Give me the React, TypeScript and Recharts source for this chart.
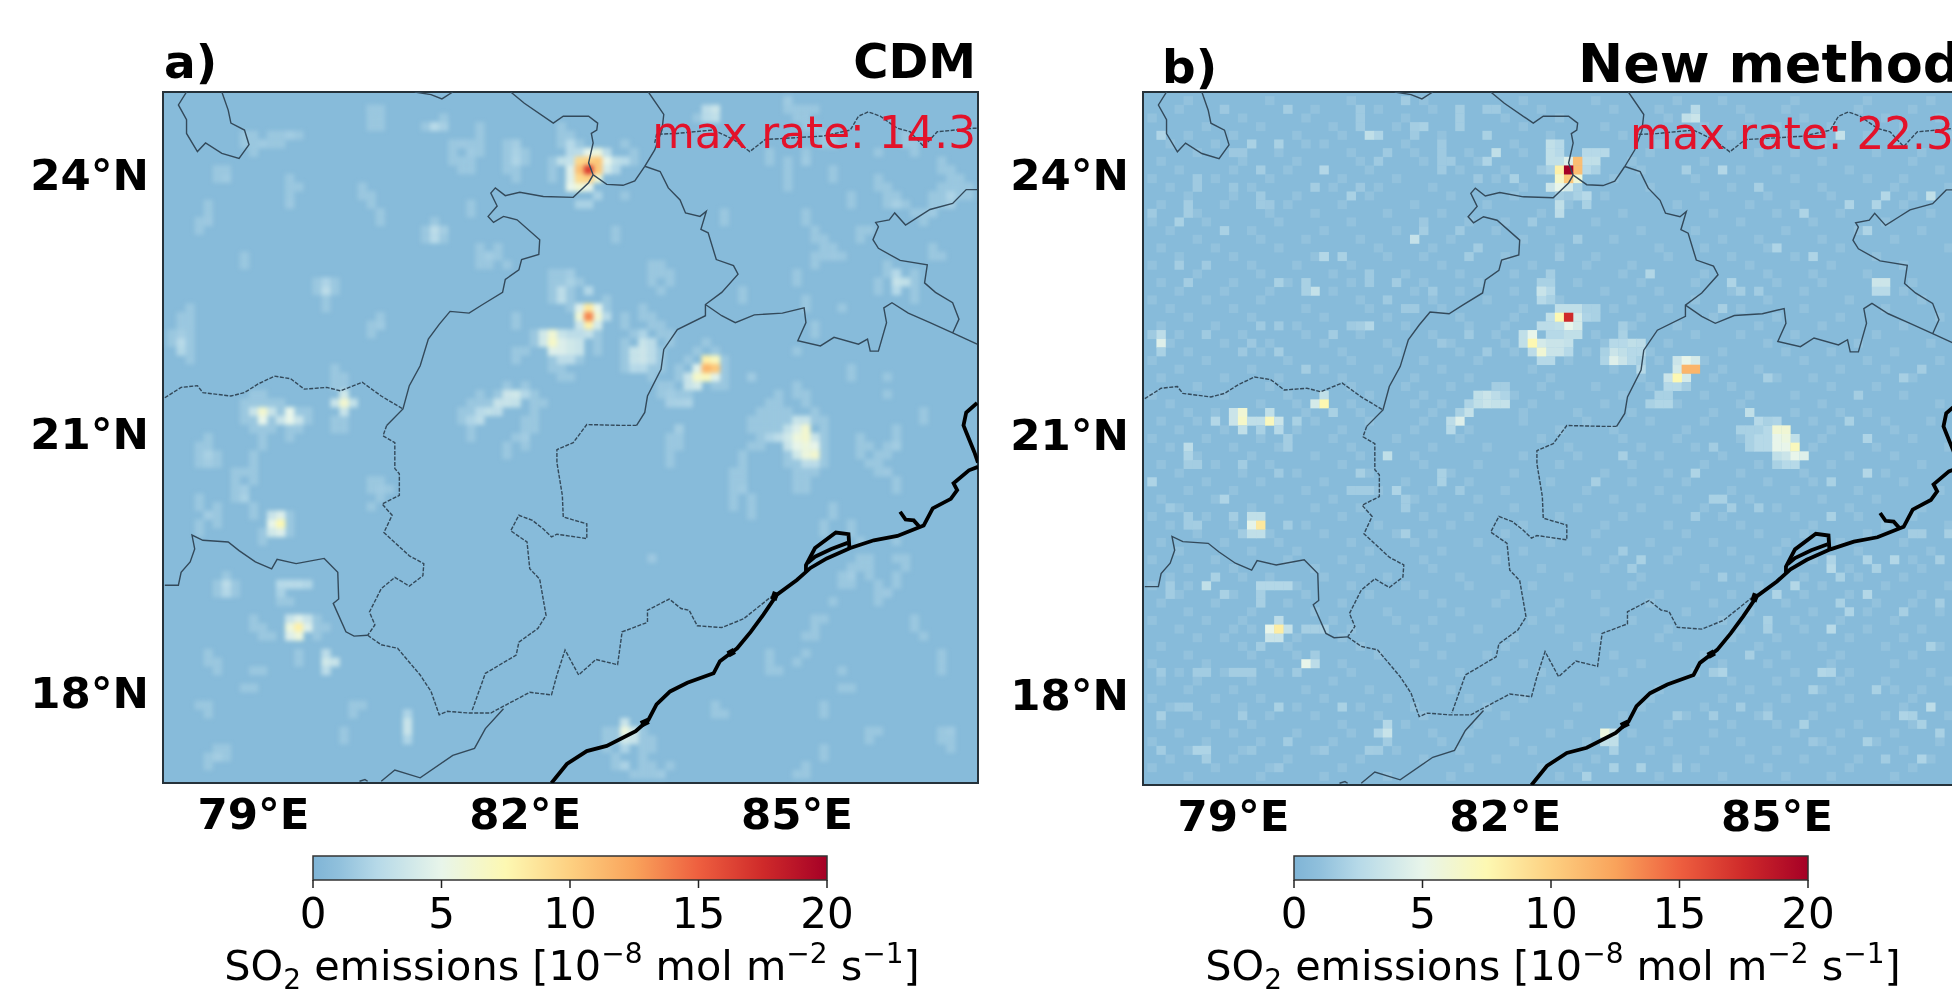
import React from 'react';
import { ScatterChart, Scatter, XAxis, YAxis, CartesianGrid, ReferenceArea, BarChart, Bar } from 'recharts';

type Cell = [number, number, number];
type Pt = [number, number];
type Row = [number, number[]];

const lonTicks = [79, 82, 85];
const latTicks = [18, 21, 24];
const barTicks = [0, 5, 10, 15, 20];

// emission cells: lon, lat, rate (0.1 deg grid, only what stands out of the background)
const cdmHaze: Row[] = [
  [24.8, [80.3, 80.4, 85.0, 85.1, 85.2, 84.9]],
  [24.7, [80.3, 80.4, 85.0, 85.1, 81.1, 83.9]],
  [24.6, [80.3, 80.4, 85.1, 85.2, 81.5, 82.4, 80.9]],
  [24.5, [78.9, 79.0, 79.2, 79.3, 79.5, 81.5, 82.4, 82.5, 84.0, 85.3, 85.4, 86.2]],
  [24.4, [78.9, 79.0, 79.2, 79.3, 81.2, 81.4, 81.5, 81.8, 82.4, 82.6, 83.1, 85.3, 85.4, 86.2, 86.3]],
  [24.3, [79.0, 81.2, 81.5, 81.8, 82.0, 83.2, 84.7, 85.1, 85.9, 86.3]],
  [24.2, [81.2, 81.3, 81.4, 81.8, 82.0, 82.3, 83.2, 84.7, 84.9, 85.1, 86.6]],
  [24.1, [78.6, 78.7, 81.3, 81.4, 81.8, 81.9, 82.3, 84.9, 85.4, 86.6, 86.7]],
  [24.0, [78.6, 79.4, 81.9, 82.3, 84.9, 85.4, 85.9, 86.7, 86.8]],
  [23.9, [79.4, 79.5, 80.2, 84.9, 85.9, 86.0, 86.6, 86.7, 86.8, 86.9]],
  [23.8, [79.4, 80.2, 80.3, 83.1, 85.6, 86.0, 86.1, 86.5, 86.6, 86.8, 86.9]],
  [23.7, [78.5, 80.3, 81.4, 85.6, 86.0, 86.2, 86.5, 86.6]],
  [23.6, [78.5, 80.4, 81.4, 84.2, 85.1, 86.3, 86.4]],
  [23.5, [78.4, 78.5, 80.4, 81.0, 84.2, 85.1, 86.4]],
  [23.4, [78.4, 80.9, 83.0, 85.2, 85.7, 85.8]],
  [23.3, [80.9, 81.1, 83.0, 85.2, 85.3, 85.7]],
  [23.2, [81.5, 81.7, 85.3, 85.4, 86.5]],
  [23.1, [78.9, 81.5, 81.6, 81.7, 85.2, 85.3, 85.5, 86.5, 86.6]],
  [23.0, [78.9, 81.5, 81.6, 81.8, 83.4, 83.5, 85.2, 86.0]],
  [22.9, [82.3, 82.4, 83.4, 83.5, 83.6, 85.0, 86.0, 86.3]],
  [22.8, [79.7, 79.9, 82.3, 82.4, 82.6, 83.4, 83.6, 85.0, 85.9, 86.3]],
  [22.7, [79.7, 79.9, 82.3, 82.5, 83.5, 84.4, 85.9, 86.3]],
  [22.6, [79.8, 82.3, 82.5, 82.9, 84.4, 85.1, 86.3]],
  [22.5, [78.3, 79.8, 82.5, 82.9, 85.1, 85.5, 83.3]],
  [22.4, [78.2, 78.3, 80.4, 81.9, 83.1, 83.3, 83.4]],
  [22.3, [78.2, 78.3, 80.3, 80.4, 81.9, 83.1, 83.4, 83.5, 85.2]],
  [22.2, [78.1, 78.3, 80.3, 82.1, 82.8, 83.2, 83.5, 83.6, 85.2]],
  [22.1, [78.1, 78.3, 82.1, 82.8, 83.1, 83.6, 84.0]],
  [22.0, [78.3, 81.9, 82.0, 82.8, 83.1, 83.5, 83.9, 84.1]],
  [21.9, [78.3, 81.9, 82.3, 82.6, 83.1, 83.5, 83.8, 84.2]],
  [21.8, [79.9, 82.3, 82.4, 83.1, 83.4, 83.5, 83.7, 84.2, 85.6]],
  [21.7, [79.9, 80.0, 82.4, 82.5, 83.4, 83.7, 84.2, 85.6, 86.0]],
  [21.6, [79.9, 80.0, 81.8, 82.0, 83.5, 83.6, 84.1, 84.2, 85.0]],
  [21.5, [79.0, 79.1, 81.5, 81.7, 82.1, 83.5, 83.6, 83.7, 83.8, 84.8, 85.0, 85.1, 86.0]],
  [21.4, [78.9, 79.0, 79.1, 79.2, 79.3, 81.4, 81.5, 81.6, 82.1, 82.2, 84.7, 84.8, 85.1]],
  [21.3, [78.9, 79.3, 79.5, 79.6, 81.3, 81.4, 82.1, 84.6, 84.7, 84.8, 84.9, 85.2, 86.4]],
  [21.2, [78.9, 79.0, 79.2, 79.6, 79.9, 80.0, 81.3, 82.0, 82.1, 84.5, 84.6, 84.7, 84.8, 84.9, 85.2, 85.3, 86.4]],
  [21.1, [79.0, 79.1, 79.2, 79.4, 79.5, 79.9, 80.0, 81.4, 82.0, 82.1, 83.7, 84.5, 84.6, 84.7, 84.8, 85.3, 86.1]],
  [21.0, [78.5, 79.1, 79.4, 81.4, 81.9, 82.0, 83.6, 83.7, 84.6, 85.3, 85.7, 86.1]],
  [20.9, [78.4, 78.5, 79.1, 81.8, 82.0, 83.6, 83.7, 84.5, 84.6, 85.3, 85.7, 85.8, 86.0]],
  [20.8, [78.4, 78.6, 79.0, 81.8, 83.6, 84.4, 84.9, 85.3, 85.7, 85.9, 86.0]],
  [20.7, [78.4, 78.6, 79.0, 83.6, 84.4, 84.9, 85.0, 85.3, 85.8, 85.9]],
  [20.6, [78.8, 78.9, 79.0, 84.3, 84.4, 85.0, 85.1, 85.2, 85.9]],
  [20.5, [78.8, 79.0, 80.3, 80.4, 84.3, 84.4, 85.0, 85.1, 86.1]],
  [20.4, [78.8, 80.3, 80.5, 84.3, 85.0, 85.1, 86.1]],
  [20.3, [78.4, 78.8, 80.4, 84.3, 84.5]],
  [20.2, [78.4, 78.6, 79.0, 80.3, 84.3, 84.5, 85.4]],
  [20.1, [78.6, 79.0, 79.4, 84.5, 85.4]],
  [20.0, [78.4, 78.6, 79.4, 85.3, 85.6]],
  [19.9, [78.4, 79.1, 79.4, 85.3, 85.6]],
  [19.8, [79.1, 85.7, 86.1]],
  [19.6, [85.7, 85.8, 86.1, 86.2]],
  [19.5, [85.6, 85.7, 85.8, 86.2]],
  [19.4, [78.7, 85.5, 85.6, 85.8, 86.1]],
  [19.3, [78.6, 78.8, 85.5, 85.6, 85.9, 86.1]],
  [19.2, [78.6, 78.8, 79.3, 85.9, 86.0]],
  [19.1, [79.3, 79.4, 85.4, 85.9]],
  [18.9, [79.0, 79.7, 85.2, 85.3, 86.3]],
  [18.8, [79.0, 79.1, 79.7, 79.8, 85.2, 86.3]],
  [18.7, [79.1, 79.2, 79.7, 85.1, 85.2, 86.4]],
  [18.5, [78.5, 79.5, 84.7, 85.1, 86.6]],
  [18.4, [78.5, 78.6, 79.5, 84.7, 85.0, 86.6]],
  [18.3, [78.6, 79.0, 79.1, 84.7, 85.5, 86.6]],
  [18.1, [78.9, 79.0, 85.5, 85.6]],
  [17.9, [78.4, 78.5, 80.1, 80.2, 84.1, 85.3]],
  [17.8, [78.5, 80.1, 84.1, 84.2, 85.3]],
  [17.6, [80.0, 82.9, 83.0, 83.3, 85.8, 85.9, 86.6]],
  [17.5, [80.0, 82.9, 83.0, 83.3, 83.4, 85.8, 86.6, 86.7]],
  [17.4, [78.6, 78.7, 82.9, 83.3, 83.4, 85.3, 86.7]],
  [17.3, [78.5, 78.7, 83.0, 83.3, 85.3]],
  [17.2, [78.5, 83.0, 83.3, 83.4, 83.6, 85.1]],
  [17.1, [83.2, 83.3, 83.4, 83.5, 85.0, 85.1]],
];

const cdmFaint: Cell[] = [
  [79.1, 24.4, 1.6], [79.4, 24.5, 1.7], [81.0, 24.6, 2.6], [81.1, 24.6, 1.9], [81.9, 24.2, 2.2], [81.9, 24.3, 2], [81.9, 24.4, 1.8],
  [85.1, 24.2, 1.6], [84.9, 24.9, 1.6], [85.4, 24.4, 1.4], [80.3, 24.8, 1.4], [81.4, 24.3, 1.6], [81.3, 24.4, 1.5], [86.7, 23.8, 2.2],
  [86.7, 23.7, 1.8], [86.1, 23.7, 1.9], [86.5, 23.6, 1.6], [81.0, 23.4, 2.8], [81.0, 23.3, 2.6], [81.1, 23.4, 1.8], [81.6, 23.1, 1.7],
  [79.8, 22.7, 2.8], [79.8, 22.8, 2.2], [78.5, 23.5, 1.5], [79.4, 23.7, 1.5], [78.7, 24.0, 1.6], [80.4, 23.6, 1.4], [78.2, 22.1, 2.6],
  [78.2, 22.0, 2.3], [78.2, 22.2, 1.8], [85.4, 23.1, 1.5], [80.4, 22.3, 1.6], [85.0, 22.0, 1.4], [78.5, 20.8, 2], [78.5, 20.7, 1.7],
  [78.9, 20.3, 2], [78.9, 20.4, 1.7], [78.5, 20.1, 1.7], [78.7, 19.3, 2.7], [78.7, 19.2, 2.4], [80.4, 20.4, 1.6], [81.4, 21.2, 2.4],
  [82.0, 21.0, 1.7], [83.7, 21.1, 1.8], [84.4, 20.4, 1.6], [86.1, 20.9, 1.7], [86.0, 20.6, 1.5], [85.6, 19.4, 1.7], [86.0, 19.2, 1.5],
  [83.4, 19.6, 1.5], [78.6, 17.3, 1.8], [83.1, 17.2, 2.1], [83.5, 17.1, 1.6], [86.7, 17.6, 1.6], [84.8, 18.3, 1.4], [79.3, 19.3, 2.5],
  [79.4, 19.3, 2.6], [79.5, 19.3, 2.6], [79.6, 19.3, 2.3], [79.3, 19.2, 2], [82.5, 22.8, 2], [82.5, 22.9, 1.7], [82.8, 23.8, 2], [82.7, 23.7, 2],
  [82.6, 23.7, 2], [84.5, 21.7, 1.6], [83.6, 21.5, 1.7], [83.7, 21.4, 2], [83.8, 21.4, 2.1], [83.6, 21.4, 1.9],
];

const cdmHot: Cell[] = [
  [82.5, 24.3, 2.6], [82.6, 24.3, 2.8], [82.4, 24.2, 3], [82.5, 24.2, 3.2], [83.0, 24.2, 3], [83.1, 24.2, 2.6], [83.0, 24.1, 2.4], [82.5, 24.4, 2.5], [82.9, 24.3, 2.8],
  [82.7, 24.3, 5], [82.8, 24.3, 5.5], [82.9, 24.2, 5], [82.9, 24.1, 4], [82.5, 24.1, 4.5], [82.5, 24.0, 4.5], [82.5, 23.9, 5], [82.6, 23.9, 6], [82.7, 23.9, 5], [82.8, 24.0, 6],
  [82.6, 24.2, 9.5], [82.7, 24.2, 10], [82.8, 24.2, 10.5], [82.6, 24.1, 11], [82.8, 24.1, 10.5], [82.6, 24.0, 9.5], [82.7, 24.0, 10], [82.7, 24.1, 16.5],
  [82.7, 22.7, 2.4], [82.4, 22.7, 2.8], [82.4, 22.6, 2.8], [82.8, 22.5, 5], [82.6, 22.5, 4.5], [82.7, 22.5, 8.5], [82.6, 22.4, 6], [82.8, 22.4, 6], [82.7, 22.3, 8],
  [82.6, 22.3, 3.6], [82.8, 22.3, 4], [82.7, 22.2, 3.2], [82.7, 22.4, 13.5], [82.9, 22.4, 2.6],
  [82.2, 22.2, 3.8], [82.2, 22.1, 3.8], [82.3, 22.0, 4.5], [82.4, 22.2, 3.4], [82.4, 22.1, 4.4], [82.4, 22.0, 4.4], [82.5, 22.1, 3.8], [82.5, 22.0, 3.8], [82.6, 22.1, 3.4], [82.6, 22.0, 3.4],
  [82.6, 22.2, 2.8], [82.5, 22.2, 2.8], [82.4, 21.9, 2.8], [82.5, 21.9, 2.8], [82.3, 22.2, 6], [82.3, 22.1, 6.5],
  [83.3, 22.1, 3.4], [83.2, 22.0, 3.3], [83.3, 22.0, 3.6], [83.2, 21.9, 3.3], [83.3, 21.9, 3.6], [83.4, 22.1, 2.8], [83.4, 22.0, 2.8], [83.4, 21.9, 2.8], [83.3, 21.8, 2.5], [83.2, 21.8, 2.5], [83.3, 22.2, 2.2],
  [83.8, 21.7, 3.4], [83.8, 21.6, 3.4], [83.9, 21.6, 4], [84.1, 21.7, 4.6], [83.9, 21.8, 4.6], [84.0, 21.9, 8], [84.1, 21.9, 7], [84.0, 21.7, 7], [83.9, 21.7, 6.5], [84.0, 21.8, 11.5], [84.1, 21.8, 10.5],
  [84.7, 21.0, 2.2], [84.8, 21.0, 2.8], [84.9, 21.1, 3], [84.9, 21.0, 3.8], [84.9, 20.9, 3.4], [85.0, 21.2, 3.4], [85.1, 21.2, 3.4], [85.2, 21.0, 3.4], [85.2, 20.7, 2.8], [85.1, 20.7, 2.8],
  [85.0, 20.8, 3.8], [85.0, 21.1, 4.5], [85.1, 21.1, 6.2], [85.0, 21.0, 5.6], [85.1, 21.0, 6.2], [85.0, 20.9, 5], [85.1, 20.9, 5.6], [85.2, 20.9, 5], [85.1, 20.8, 5.6], [85.2, 20.8, 6.2],
  [81.4, 21.2, 2.2], [81.5, 21.2, 2.8], [81.5, 21.3, 2.6], [81.6, 21.3, 3], [81.7, 21.3, 2.8], [81.7, 21.4, 3.4], [81.8, 21.4, 3.4], [81.9, 21.4, 3.1], [81.8, 21.5, 3.6], [81.9, 21.5, 3.8], [82.0, 21.5, 2.4],
  [79.0, 21.3, 3.4], [79.2, 21.3, 3.4], [79.1, 21.3, 6.2], [79.1, 21.2, 5], [79.3, 21.2, 3.4], [79.4, 21.3, 5], [79.4, 21.2, 5], [79.5, 21.2, 3.4], [79.9, 21.4, 3.4], [80.1, 21.4, 3.1], [80.0, 21.5, 3.8], [80.0, 21.3, 3.4], [80.0, 21.4, 6.2],
  [79.2, 20.1, 3.4], [79.3, 20.1, 4.5], [79.2, 20.0, 5], [79.3, 20.0, 7.4], [79.2, 19.9, 3.8], [79.3, 19.9, 4.5],
  [79.4, 18.9, 3.4], [79.5, 18.9, 4.5], [79.6, 18.9, 3.4], [79.4, 18.8, 5.6], [79.5, 18.8, 8], [79.6, 18.8, 4.5], [79.4, 18.7, 4.5], [79.5, 18.7, 5.6],
  [79.8, 18.4, 3.8], [79.9, 18.4, 3.4], [79.8, 18.3, 2.8], [79.8, 18.5, 2.8], [80.7, 17.8, 2.2], [80.7, 17.7, 3.4], [80.7, 17.6, 3.4], [80.7, 17.5, 2.2],
  [83.1, 17.7, 3.4], [83.1, 17.6, 5.6], [83.2, 17.6, 3.8], [83.1, 17.5, 3.8], [83.2, 17.5, 3.4], [83.1, 17.4, 2.2],
  [84.1, 24.8, 3.5], [84.0, 24.8, 2.8], [84.1, 24.7, 3], [84.0, 24.7, 2.6], [86.1, 22.8, 3.3], [86.2, 22.8, 3], [86.1, 22.9, 2.5], [86.1, 22.7, 2.5],
];

const newHaze: Row[] = [
  [24.9, [78.5, 79.4, 80.3, 81.1, 82.2, 83.0, 83.9, 84.4, 85.2, 86.0, 86.7]],
  [24.8, [78.4, 78.9, 79.9, 80.6, 81.2, 82.4, 83.2, 83.7, 84.6, 85.1, 85.9, 86.5]],
  [24.7, [78.1, 79.1, 79.8, 80.9, 82.0, 82.6, 83.8, 84.7, 85.3, 86.2, 86.8]],
  [24.6, [78.7, 79.3, 80.1, 80.8, 82.2, 83.1, 84.2, 85.0, 85.6, 86.4]],
  [24.5, [78.5, 79.0, 79.7, 80.2, 81.3, 82.5, 83.3, 84.5, 85.1, 86.0, 86.9]],
  [24.4, [78.3, 78.8, 79.8, 80.0, 80.9, 82.1, 83.7, 84.3, 84.9, 85.5, 86.3]],
  [24.3, [78.6, 79.5, 80.3, 81.0, 81.6, 82.2, 83.6, 84.8, 85.2, 86.1, 86.6]],
  [24.2, [78.2, 79.1, 79.7, 80.4, 81.1, 81.7, 83.4, 84.2, 85.5, 86.5]],
  [24.1, [78.4, 79.0, 79.6, 80.5, 81.5, 82.0, 83.5, 84.6, 85.0, 85.8, 86.8]],
  [24.0, [78.1, 78.8, 79.4, 80.2, 80.8, 81.9, 83.2, 84.1, 85.2, 86.0, 86.4]],
  [23.9, [78.3, 79.2, 80.1, 80.6, 81.2, 82.2, 83.6, 84.5, 85.5, 86.3, 86.9]],
  [23.8, [78.5, 79.0, 79.7, 80.5, 81.4, 82.1, 83.1, 84.2, 84.9, 85.6, 86.5]],
  [23.7, [78.2, 78.9, 79.6, 80.2, 81.0, 81.8, 82.7, 83.9, 84.7, 85.2, 86.4]],
  [23.6, [78.6, 79.4, 79.9, 80.7, 81.3, 82.4, 83.3, 84.3, 85.0, 85.7, 86.7]],
  [23.5, [78.1, 78.7, 79.5, 80.3, 81.6, 82.0, 83.0, 84.6, 85.4, 86.2]],
  [23.4, [78.3, 79.2, 80.0, 80.8, 81.9, 82.5, 83.5, 84.1, 85.1, 85.9, 86.6]],
  [23.3, [78.6, 79.3, 79.8, 80.4, 81.4, 82.2, 83.2, 84.4, 84.8, 85.5, 86.3]],
  [23.2, [78.2, 78.8, 79.5, 80.6, 81.2, 82.6, 83.7, 84.2, 84.9, 85.7, 86.9]],
  [23.1, [78.4, 79.0, 79.9, 80.7, 81.1, 82.0, 83.0, 83.8, 84.5, 85.2, 86.1]],
  [23.0, [78.1, 79.2, 79.7, 80.3, 81.3, 82.3, 82.9, 83.4, 84.7, 85.6, 86.4]],
  [22.9, [78.6, 79.3, 80.1, 80.9, 81.5, 82.1, 83.3, 84.2, 84.9, 85.4, 86.0]],
  [22.8, [78.2, 79.0, 79.6, 80.3, 81.1, 81.7, 82.8, 83.5, 84.1, 85.0, 85.5, 86.5]],
  [22.7, [78.4, 78.9, 79.4, 80.1, 81.0, 81.5, 82.1, 83.1, 83.7, 84.5, 85.3, 86.4]],
  [22.6, [78.1, 78.7, 79.3, 80.4, 81.2, 81.8, 82.6, 83.4, 84.1, 84.9, 85.8, 86.6]],
  [22.5, [78.3, 79.0, 79.8, 80.5, 81.3, 82.2, 83.2, 83.8, 84.6, 85.3, 86.2]],
  [22.4, [78.5, 79.2, 80.0, 80.7, 81.5, 82.1, 83.5, 84.3, 85.0, 85.7, 86.8]],
  [22.3, [78.2, 78.8, 79.7, 80.9, 81.6, 82.0, 83.4, 83.9, 84.8, 85.5, 86.4]],
  [22.2, [78.4, 79.1, 79.8, 80.4, 81.2, 81.9, 83.0, 84.1, 84.6, 85.2, 86.1]],
  [22.1, [78.3, 78.9, 79.4, 80.0, 80.7, 81.4, 82.0, 83.1, 83.8, 84.9, 85.9, 86.7]],
  [22.0, [78.5, 79.3, 80.2, 80.8, 81.5, 82.1, 82.9, 83.6, 84.4, 85.1, 85.6, 86.3]],
  [21.9, [78.1, 78.7, 79.6, 80.3, 81.1, 81.7, 82.7, 83.7, 84.2, 85.3, 86.0, 86.8]],
  [21.8, [78.4, 79.2, 80.0, 80.6, 81.3, 82.3, 83.2, 84.4, 84.8, 85.7, 86.2]],
  [21.7, [78.2, 78.9, 79.5, 80.2, 81.0, 81.6, 82.5, 83.5, 84.3, 85.0, 85.4, 86.5]],
  [21.6, [78.6, 79.4, 80.3, 80.9, 81.4, 82.4, 83.0, 83.6, 84.5, 85.6, 86.1]],
  [21.5, [78.1, 78.9, 79.6, 80.5, 81.1, 82.1, 82.6, 83.3, 84.2, 84.7, 85.2, 86.4]],
  [21.4, [78.3, 79.3, 79.7, 80.3, 81.0, 81.3, 82.3, 83.1, 83.9, 84.6, 85.5, 86.8]],
  [21.3, [78.5, 78.8, 79.8, 80.4, 81.2, 82.2, 82.8, 83.4, 84.3, 85.2, 85.7, 86.0]],
  [21.2, [78.2, 78.6, 79.9, 80.5, 81.1, 82.2, 82.9, 83.6, 84.2, 85.4, 86.2, 86.7]],
  [21.1, [78.4, 78.9, 79.7, 80.2, 81.0, 81.6, 82.6, 83.2, 84.0, 85.0, 85.6, 86.3]],
  [21.0, [78.1, 78.7, 79.3, 80.1, 80.8, 81.5, 82.4, 83.3, 83.9, 84.6, 85.5, 86.5]],
  [20.9, [78.3, 79.0, 79.5, 80.3, 81.2, 81.8, 82.7, 83.5, 84.1, 85.4, 86.1, 86.9]],
  [20.8, [78.6, 79.2, 79.9, 80.4, 81.0, 82.2, 82.8, 83.7, 84.4, 85.1, 85.8, 86.3]],
  [20.7, [78.2, 78.8, 79.4, 80.2, 81.1, 81.7, 82.6, 83.4, 84.2, 84.8, 85.6, 86.6]],
  [20.6, [78.4, 79.1, 79.7, 80.5, 81.4, 82.1, 83.1, 83.8, 84.6, 85.3, 86.2]],
  [20.5, [78.1, 78.7, 79.3, 80.0, 80.9, 81.6, 82.5, 83.4, 84.0, 84.9, 85.4, 86.4]],
  [20.4, [78.5, 79.0, 79.8, 80.6, 81.2, 82.0, 82.9, 83.7, 84.5, 85.2, 85.9, 86.8]],
  [20.3, [78.2, 78.8, 79.5, 80.1, 81.0, 81.7, 83.2, 83.9, 84.7, 85.5, 86.1]],
  [20.2, [78.4, 79.2, 79.9, 80.4, 81.3, 82.1, 82.8, 83.5, 84.2, 85.0, 85.8, 86.6]],
  [20.1, [78.1, 78.7, 79.3, 80.2, 81.1, 81.6, 82.6, 83.3, 84.4, 85.2, 85.9, 86.5]],
  [20.0, [78.3, 79.0, 79.8, 80.6, 81.4, 82.2, 83.1, 83.8, 84.6, 85.4, 86.2, 86.9]],
  [19.9, [78.6, 79.4, 80.0, 80.8, 81.2, 82.0, 83.0, 84.0, 84.8, 85.3, 86.0]],
  [19.8, [78.2, 78.9, 79.5, 80.3, 81.0, 81.7, 82.5, 83.6, 84.3, 85.1, 85.7, 86.4]],
  [19.7, [78.4, 79.2, 79.7, 80.5, 81.3, 82.2, 82.9, 83.9, 84.5, 85.0, 85.9, 86.7]],
  [19.6, [78.1, 78.8, 79.6, 80.2, 81.1, 81.9, 83.2, 83.8, 84.7, 85.4, 86.5]],
  [19.5, [78.5, 79.0, 79.9, 80.4, 81.2, 82.4, 83.1, 84.2, 84.9, 85.8, 86.6]],
  [19.4, [78.3, 79.1, 79.4, 80.0, 80.7, 81.5, 82.7, 83.5, 84.6, 85.3, 85.9, 86.4]],
  [19.3, [78.1, 78.5, 79.7, 80.3, 80.9, 81.6, 82.3, 83.4, 84.1, 84.8, 85.5, 86.2, 86.9]],
  [19.2, [78.4, 79.0, 79.8, 80.5, 81.1, 82.0, 83.0, 83.7, 84.5, 85.3, 85.8, 86.6]],
  [19.1, [78.2, 78.8, 79.6, 80.2, 81.3, 81.9, 82.6, 83.6, 84.3, 85.1, 86.1, 86.5]],
  [19.0, [78.5, 79.2, 79.9, 80.7, 81.5, 82.5, 83.1, 84.0, 84.7, 85.4, 86.0, 86.8]],
  [18.9, [78.1, 78.7, 79.1, 80.1, 80.8, 81.2, 82.3, 83.4, 84.4, 85.2, 85.7, 86.3]],
  [18.8, [78.4, 79.0, 79.2, 80.3, 81.0, 81.7, 82.6, 83.8, 84.6, 85.3, 86.0, 86.6]],
  [18.7, [78.6, 78.9, 79.7, 80.2, 81.4, 82.1, 83.0, 83.7, 84.5, 85.0, 85.8, 86.4]],
  [18.6, [78.2, 79.1, 79.6, 80.4, 81.1, 82.0, 82.8, 83.9, 84.8, 85.5, 86.2, 86.8]],
  [18.5, [78.5, 79.2, 79.7, 80.6, 81.3, 81.8, 83.2, 84.2, 85.1, 85.7, 86.5]],
  [18.4, [78.1, 78.7, 79.4, 80.2, 81.0, 82.2, 83.5, 84.4, 84.9, 85.6, 86.3]],
  [18.3, [78.4, 78.9, 79.5, 80.3, 81.5, 82.4, 83.3, 84.1, 85.2, 85.8, 86.7]],
  [18.2, [78.2, 78.6, 79.2, 80.1, 81.2, 81.9, 83.1, 84.5, 85.0, 85.7, 86.2, 86.9]],
  [18.1, [78.5, 79.0, 79.8, 80.5, 81.4, 82.5, 83.7, 84.7, 85.5, 86.3, 86.6]],
  [18.0, [78.1, 78.8, 79.3, 80.0, 80.7, 81.6, 82.2, 83.6, 84.4, 85.1, 85.8, 86.5]],
  [17.9, [78.3, 79.1, 79.7, 80.4, 81.0, 81.8, 82.8, 83.5, 84.2, 84.9, 85.6, 86.4]],
  [17.8, [78.6, 79.4, 79.9, 80.6, 81.1, 82.0, 83.3, 84.0, 84.8, 85.4, 86.2, 86.9]],
  [17.7, [78.2, 78.8, 79.2, 80.2, 80.9, 81.7, 82.7, 83.8, 84.5, 85.0, 85.9, 86.5]],
  [17.6, [78.4, 79.0, 79.7, 80.3, 81.2, 81.6, 82.5, 83.4, 84.3, 85.2, 85.7, 86.3]],
  [17.5, [78.1, 78.7, 79.3, 80.1, 81.3, 82.1, 82.9, 83.8, 84.6, 85.5, 86.1, 86.8]],
  [17.4, [78.5, 79.1, 79.9, 80.8, 81.5, 82.3, 83.6, 84.2, 85.0, 85.6, 86.4]],
  [17.3, [78.3, 79.0, 79.6, 80.4, 81.1, 81.9, 83.0, 83.9, 84.7, 85.3, 85.9, 86.7]],
  [17.2, [78.1, 78.8, 79.4, 80.2, 81.6, 82.4, 82.8, 84.1, 84.9, 85.8, 86.5]],
  [17.1, [78.5, 79.3, 80.0, 80.7, 81.4, 82.6, 83.7, 84.4, 85.1, 85.6, 86.3]],
];

const newFaint: Cell[] = [
  [80.6, 24.5, 2.2], [80.4, 24.6, 1.6], [80.4, 24.7, 1.6], [80.4, 24.8, 1.6], [81.5, 24.6, 1.8], [81.5, 24.7, 1.8], [81.5, 24.8, 1.8], [78.2, 24.5, 2.2], [79.6, 24.8, 1.8], [78.9, 24.8, 1.5],
  [79.2, 24.4, 2], [79.5, 24.4, 2], [79.0, 24.3, 1.5], [79.1, 24.3, 1.5], [80.0, 24.1, 2.4], [79.3, 24.1, 1.8], [79.9, 23.9, 1.8], [80.3, 23.8, 2], [80.4, 23.9, 1.5], [80.7, 24.3, 1.6], [80.6, 24.2, 1.6],
  [81.1, 24.6, 2], [81.0, 24.6, 1.8], [81.0, 24.5, 1.6], [81.9, 24.3, 3], [81.8, 24.2, 2.2], [81.8, 24.5, 2], [82.1, 24.0, 2], [81.7, 24.0, 1.5], [81.3, 24.1, 1.6], [81.3, 24.2, 1.6], [81.3, 24.3, 1.6], [81.3, 24.4, 1.6],
  [81.4, 24.2, 1.6], [81.8, 24.8, 1.6], [81.9, 24.8, 1.6], [80.9, 24.9, 1.7], [78.5, 23.6, 1.8], [78.5, 23.7, 1.8], [78.4, 23.5, 2], [78.1, 23.6, 1.6], [78.9, 23.4, 2], [79.3, 23.8, 1.6], [79.3, 23.7, 1.6], [79.4, 23.7, 1.5],
  [79.0, 23.9, 1.4], [78.6, 24.0, 1.6], [78.6, 23.9, 1.6], [81.1, 23.4, 1.8], [81.1, 23.5, 1.5], [80.0, 23.1, 2.4], [80.2, 23.1, 2], [79.5, 22.8, 2], [78.5, 22.8, 1.8], [78.4, 23.0, 1.8], [78.7, 23.0, 1.6],
  [80.5, 22.8, 1.6], [80.5, 22.9, 1.6], [80.8, 22.8, 1.7], [81.2, 22.7, 1.6], [80.7, 22.6, 1.6], [80.9, 22.5, 1.6], [81.0, 22.5, 1.6], [80.5, 22.3, 2.4], [80.4, 22.3, 1.8], [80.3, 22.3, 1.6], [79.5, 22.3, 1.6], [79.3, 22.3, 1.6],
  [78.7, 22.2, 1.6], [80.1, 22.2, 1.7], [78.1, 22.2, 1.6], [79.5, 22.0, 1.8], [79.1, 22.0, 1.5], [79.2, 22.1, 1.5], [79.8, 21.8, 1.8], [81.6, 22.2, 1.6], [81.8, 22.0, 1.6], [81.3, 22.1, 1.5], [81.7, 23.2, 1.7], [81.6, 23.1, 1.7],
  [81.5, 23.4, 1.6], [82.9, 23.8, 2], [82.8, 23.3, 1.7], [82.6, 23.1, 1.5], [82.3, 23.5, 1.6], [78.5, 20.7, 1.8], [78.6, 20.7, 1.8], [79.1, 20.7, 1.7], [78.1, 20.5, 2.2], [78.9, 20.3, 2.2], [80.7, 20.8, 3], [80.4, 20.6, 1.9],
  [80.8, 20.4, 2.2], [80.9, 20.2, 1.7], [80.9, 20.3, 1.7], [80.3, 20.4, 1.7], [80.4, 20.4, 1.7], [80.5, 20.4, 1.7], [79.5, 20.6, 1.6], [79.6, 20.9, 1.8], [79.6, 21.0, 1.8], [81.3, 20.5, 2], [81.3, 20.6, 2], [81.5, 20.4, 1.6],
  [80.9, 19.9, 1.9], [78.5, 20.0, 1.7], [78.5, 20.1, 1.7], [78.6, 20.0, 1.8], [78.3, 20.2, 1.6], [79.6, 20.0, 1.7], [79.0, 20.1, 1.8], [79.1, 19.9, 1.7], [78.3, 19.2, 1.7], [78.3, 19.3, 1.7], [79.8, 18.8, 1.9], [79.9, 18.8, 1.9], [80.0, 18.8, 1.9],
  [79.3, 18.6, 1.7], [79.9, 18.5, 1.7], [79.7, 18.3, 1.6], [79.0, 18.3, 1.8], [79.1, 18.3, 1.8], [79.2, 18.3, 1.8], [78.6, 18.3, 1.7], [78.7, 18.3, 1.7], [78.2, 18.3, 1.6], [79.5, 17.9, 2], [80.2, 17.9, 2], [78.2, 17.8, 1.9],
  [79.1, 17.8, 1.7], [78.4, 17.9, 1.6], [78.5, 17.9, 1.6], [78.6, 17.4, 2.2], [78.7, 17.4, 2.2], [78.7, 17.3, 1.8], [78.2, 17.4, 1.7], [79.6, 17.5, 1.7], [80.5, 17.4, 1.8], [80.6, 17.4, 1.7], [80.0, 17.4, 1.5], [79.5, 17.2, 1.5], [79.2, 17.4, 1.4],
  [83.2, 17.4, 2], [83.2, 17.2, 2], [82.9, 17.1, 2], [83.5, 17.2, 2], [83.9, 17.2, 1.7], [86.6, 17.3, 2.2], [86.2, 17.3, 1.7], [86.0, 17.5, 2], [86.7, 17.9, 2.8], [86.1, 18.1, 2], [86.7, 18.6, 2], [85.6, 18.8, 2.6], [85.8, 19.0, 2.2],
  [85.7, 19.1, 2], [86.0, 19.2, 2.4], [86.4, 19.0, 1.9], [86.3, 19.6, 2.4], [86.0, 19.6, 2.2], [86.1, 19.5, 2], [85.6, 19.5, 2.6], [85.7, 19.4, 2], [85.6, 19.6, 2.2], [85.2, 19.3, 2.4], [85.0, 19.2, 2.2], [84.9, 18.9, 2], [84.9, 18.8, 1.9],
  [84.4, 18.3, 2.2], [84.3, 18.3, 1.8], [84.7, 18.5, 1.9], [85.5, 18.3, 2.4], [85.6, 18.3, 2.2], [85.4, 18.1, 2], [85.3, 17.7, 2], [84.9, 17.8, 1.8], [83.9, 17.8, 1.8], [84.3, 17.8, 1.7], [84.6, 17.9, 1.7], [85.6, 20.1, 2], [86.0, 20.6, 2.4],
  [85.6, 20.5, 2], [84.1, 20.6, 2.2], [83.0, 20.5, 1.9], [83.3, 20.8, 1.9], [83.5, 19.6, 2], [83.4, 19.5, 1.7], [83.3, 19.7, 1.7], [84.4, 19.4, 1.7], [84.1, 20.1, 1.7], [84.3, 20.3, 2], [84.4, 20.3, 2], [84.5, 20.2, 1.8], [84.8, 20.2, 1.7],
  [86.6, 19.9, 1.8], [86.5, 19.9, 1.8], [86.9, 19.9, 1.9], [86.8, 19.6, 1.9], [86.8, 19.1, 1.8], [86.8, 17.6, 2], [86.4, 17.8, 2.2], [86.5, 17.8, 2], [86.6, 17.7, 2], [85.4, 17.5, 1.5],
  [84.4, 24.1, 2.4], [84.0, 24.1, 1.9], [84.8, 23.9, 1.9], [85.0, 23.2, 2.2], [85.4, 23.1, 2.2], [85.3, 23.6, 2.2], [85.8, 23.7, 2.2], [86.2, 23.8, 2.4], [86.1, 23.7, 2.2], [86.7, 23.8, 3], [85.7, 24.5, 3.2], [86.0, 23.4, 2.2],
  [83.6, 22.9, 2.3], [84.5, 22.8, 2.2], [84.6, 22.7, 1.8], [84.8, 22.7, 1.7], [84.4, 22.5, 1.9], [85.8, 21.2, 2], [86.0, 21.0, 2.2], [85.9, 21.5, 1.8], [86.6, 21.8, 1.8], [86.4, 21.7, 1.9], [84.9, 21.7, 1.9], [84.3, 20.9, 1.7],
];

const newHot: Cell[] = [
  [82.5, 24.4, 3], [82.6, 24.4, 2.5], [82.5, 24.3, 3], [82.6, 24.3, 2.5], [82.5, 24.2, 3], [82.6, 24.2, 3], [82.9, 24.3, 2.5], [83.0, 24.3, 2.5], [83.1, 24.3, 2.5], [82.9, 24.2, 3], [83.0, 24.2, 3], [82.9, 24.1, 2.5], [83.0, 24.1, 2],
  [82.5, 24.1, 2], [82.4, 24.1, 1.5], [82.7, 24.2, 4.5], [82.5, 23.9, 3.5], [82.6, 23.9, 5], [82.7, 23.9, 4], [82.8, 23.9, 2], [82.8, 23.8, 2], [82.9, 23.8, 2.5], [82.9, 23.7, 2], [82.6, 23.8, 1.8], [82.7, 23.8, 1.5], [82.6, 23.6, 2.8], [82.6, 23.7, 3],
  [82.6, 24.1, 8], [82.6, 24.0, 6.5], [82.8, 24.0, 6], [82.7, 24.0, 10.5], [82.8, 24.1, 11], [82.8, 24.2, 11], [82.7, 24.1, 22.3],
  [82.4, 22.8, 2], [82.5, 22.8, 2], [82.5, 22.7, 2.5], [82.5, 22.6, 2], [82.4, 22.6, 2.5], [82.4, 22.7, 3.5], [82.5, 22.9, 1.8],
  [82.8, 22.4, 4], [82.7, 22.3, 5], [82.8, 22.3, 4], [82.7, 22.5, 3], [82.6, 22.5, 3], [82.8, 22.5, 3], [82.9, 22.4, 2.2], [83.0, 22.4, 2], [82.9, 22.5, 2], [83.0, 22.5, 2], [82.5, 22.4, 3], [82.5, 22.3, 2.8], [82.6, 22.3, 3], [82.4, 22.3, 2.8], [82.6, 22.4, 7.5], [82.7, 22.4, 17.5],
  [82.2, 22.2, 3], [82.2, 22.1, 3], [82.4, 22.1, 4], [82.5, 22.1, 3.5], [82.6, 22.1, 3.5], [82.7, 22.1, 3.2], [82.5, 22.0, 3.5], [82.6, 22.0, 3.5], [82.7, 22.0, 2.5], [82.3, 22.0, 2.8], [82.4, 21.9, 2.5], [82.5, 21.9, 2.5],
  [82.5, 22.2, 2.5], [82.6, 22.2, 2.5], [82.7, 22.2, 3], [82.8, 22.2, 3], [82.3, 22.2, 5], [82.3, 22.1, 7.5], [82.4, 22.0, 6],
  [83.3, 21.9, 3.5], [83.2, 22.0, 3.5], [83.3, 22.0, 3], [83.3, 22.1, 2.5], [83.2, 22.1, 2.5], [83.3, 22.2, 2], [83.3, 22.3, 1.8], [83.4, 22.1, 3], [83.5, 22.1, 2.8], [83.1, 22.0, 2], [83.1, 21.9, 2.2], [83.4, 21.9, 2.5], [83.4, 22.0, 2.5], [83.5, 22.0, 2.5], [83.5, 21.8, 2.5], [83.5, 21.9, 2], [83.2, 21.9, 4.5],
  [83.8, 21.7, 3.5], [84.0, 21.7, 4], [83.9, 21.8, 4], [83.9, 21.9, 3.5], [84.0, 21.9, 5], [84.1, 21.9, 4], [83.8, 21.6, 2.5], [83.9, 21.6, 2.5], [84.0, 21.6, 1.8], [83.6, 21.4, 2], [83.7, 21.4, 2.3], [83.8, 21.4, 2.3], [83.7, 21.5, 2], [83.8, 21.5, 2], [84.0, 21.8, 11.5], [84.1, 21.8, 11.5], [83.9, 21.7, 7.5],
  [84.7, 20.9, 2], [84.7, 21.0, 2], [84.8, 20.9, 2.5], [84.8, 21.0, 2.5], [84.9, 20.9, 2.5], [84.9, 21.0, 2.5], [84.6, 21.1, 2], [84.7, 21.1, 2], [84.8, 21.1, 2], [84.9, 21.1, 2.5], [84.8, 21.2, 2.5], [84.9, 21.2, 2], [84.7, 21.3, 3], [85.0, 21.2, 2.2], [85.1, 20.7, 2.5], [85.2, 20.7, 2.5], [85.0, 20.7, 2],
  [85.2, 21.0, 3], [85.0, 20.8, 3], [85.1, 20.8, 3.5], [85.0, 21.1, 6], [85.1, 21.1, 6], [85.0, 21.0, 5], [85.1, 21.0, 5.5], [85.0, 20.9, 5], [85.1, 20.9, 5], [85.2, 20.9, 7], [85.2, 20.8, 5], [85.3, 20.8, 4.5],
  [81.4, 21.1, 2.5], [81.4, 21.2, 2.8], [81.5, 21.3, 2], [81.6, 21.4, 2.2], [81.6, 21.3, 3.2], [81.7, 21.4, 3], [81.8, 21.4, 3.5], [81.9, 21.4, 3.2], [81.7, 21.5, 3], [81.8, 21.5, 3.5], [81.9, 21.5, 2.8], [82.0, 21.4, 3.2], [82.0, 21.5, 2.2], [82.0, 21.6, 1.8], [81.9, 21.6, 1.8], [81.5, 21.2, 4.5],
  [79.9, 21.4, 4], [80.0, 21.5, 3], [80.0, 21.4, 7.5], [80.1, 21.3, 2], [79.0, 21.3, 3.5], [79.0, 21.2, 3.5], [79.1, 21.3, 6], [79.1, 21.2, 6.5], [79.1, 21.1, 3], [79.2, 21.2, 3], [79.3, 21.2, 3], [79.3, 21.1, 2], [79.4, 21.3, 3], [79.4, 21.2, 7], [79.5, 21.2, 3.5], [79.5, 21.1, 2.5], [78.8, 21.2, 2.4], [79.7, 21.2, 2],
  [78.2, 22.1, 4.5], [78.2, 22.2, 2.8], [78.2, 22.0, 2], [78.5, 20.9, 2.8], [78.5, 20.8, 2.2], [78.6, 20.7, 1.8], [84.1, 24.7, 3.5], [84.0, 24.7, 3], [84.1, 24.8, 2.6], [80.5, 24.5, 3], [81.0, 23.3, 3.2], [80.0, 23.1, 2.4], [79.9, 22.7, 3.2], [79.8, 22.7, 2], [79.8, 22.8, 2], [82.4, 22.7, 3.4],
  [86.1, 22.8, 3.6], [86.2, 22.8, 3.6], [86.1, 22.7, 2.6], [86.2, 22.7, 2.6],
  [79.2, 20.1, 3], [79.3, 20.1, 3], [79.2, 19.9, 3], [79.3, 19.9, 3], [79.2, 20.0, 4.8], [79.3, 20.0, 8.5],
  [78.7, 19.3, 3], [78.8, 19.4, 2], [78.9, 19.2, 2], [79.3, 19.3, 2.4], [79.4, 19.3, 2.4], [79.5, 19.3, 2.4], [79.6, 19.3, 2.4], [79.3, 19.2, 1.9], [79.3, 19.1, 1.9],
  [79.4, 18.7, 3.4], [79.5, 18.7, 3.4], [79.5, 18.9, 2.8], [79.6, 18.8, 3.2], [79.4, 18.8, 5], [79.5, 18.8, 8.2], [79.9, 18.4, 2.8], [79.8, 18.4, 5],
  [80.6, 17.6, 2.2], [80.7, 17.7, 2.4], [80.7, 17.5, 1.7], [80.7, 17.6, 3.4], [83.2, 17.6, 3.5], [83.1, 17.5, 3], [83.2, 17.5, 3], [83.1, 17.6, 5.5],
];

// state borders and coast: lon, lat
const lakeNorth: Pt[] = [[78.65, 25], [78.72, 24.79], [78.75, 24.64], [78.9, 24.56], [78.95, 24.39], [78.84, 24.23], [78.65, 24.29], [78.47, 24.41], [78.38, 24.31], [78.26, 24.52], [78.26, 24.68], [78.17, 24.85], [78.26, 25]];
const notchNorth: Pt[] = [[80.78, 25], [80.96, 24.97], [81.08, 24.92], [81.2, 25]];
const upNorth: Pt[] = [[81.84, 25], [81.99, 24.87], [82.31, 24.64], [82.42, 24.72], [82.7, 24.72], [82.8, 24.64], [82.79, 24.56], [82.73, 24.52], [82.75, 24.41], [82.7, 24.18], [82.75, 24.04], [82.9, 23.93], [83.08, 23.92], [83.21, 23.97], [83.32, 24.14]];
const upEast: Pt[] = [[83.36, 25], [83.53, 24.74], [83.51, 24.56], [83.43, 24.33], [83.32, 24.14]];
const jharkhandWest: Pt[] = [[83.32, 24.14], [83.49, 24.08], [83.58, 23.89], [83.71, 23.75], [83.77, 23.6], [83.93, 23.56], [84.0, 23.62], [83.94, 23.41], [84.02, 23.37], [84.11, 23.06], [84.3, 22.99], [84.35, 22.89], [84.17, 22.68], [83.99, 22.54], [83.99, 22.41], [83.68, 22.25], [83.53, 22.02], [83.5, 21.79], [83.35, 21.48], [83.32, 21.29], [83.23, 21.14]];
const odishaWest: Pt[] = [[83.23, 21.14], [83.08, 21.14], [82.68, 21.15], [82.53, 20.94], [82.35, 20.86], [82.35, 20.71], [82.41, 20.33], [82.42, 20.08], [82.68, 20], [82.68, 19.83], [82.35, 19.88], [82.29, 19.85], [82.2, 19.94], [82.08, 20.04], [81.93, 20.1], [81.84, 19.92], [82.02, 19.79], [82.05, 19.48], [82.16, 19.36], [82.23, 18.94], [82.14, 18.79], [81.93, 18.63], [81.9, 18.48], [81.56, 18.27], [81.41, 17.83]];
const odishaNorth: Pt[] = [[83.99, 22.54], [84.17, 22.41], [84.32, 22.33], [84.53, 22.42], [84.84, 22.44], [85.08, 22.5], [85.1, 22.33], [85.01, 22.12], [85.26, 22.06], [85.41, 22.16], [85.68, 22.08], [85.78, 22.14], [85.81, 22], [85.9, 22], [85.99, 22.33], [85.96, 22.5], [86.05, 22.56], [86.23, 22.44], [86.47, 22.33], [86.72, 22.21], [86.99, 22.08]];
const bengalWest: Pt[] = [[86.72, 22.21], [86.79, 22.37], [86.72, 22.56], [86.53, 22.68], [86.41, 22.79], [86.44, 23], [86.14, 23.05], [85.9, 23.19], [85.84, 23.29], [85.9, 23.44], [85.87, 23.49], [86.02, 23.52], [86.08, 23.6], [86.2, 23.46], [86.35, 23.56], [86.47, 23.64], [86.72, 23.71], [86.87, 23.87], [86.99, 23.87]];
const biharSouth: Pt[] = [[83.43, 24.41], [83.45, 24.51], [83.67, 24.52], [84.08, 24.56], [84.3, 24.45], [84.48, 24.31], [84.65, 24.45], [85.29, 24.49], [85.59, 24.56], [85.68, 24.72], [85.79, 24.77], [85.92, 24.72], [86.11, 24.58], [86.25, 24.54], [86.4, 24.37], [86.55, 24.54], [86.95, 24.58], [87, 24.58]];
const chhattisgarhNorth: Pt[] = [[82.75, 24.04], [82.7, 23.95], [82.53, 23.78], [82.2, 23.79], [81.94, 23.84], [81.78, 23.8], [81.67, 23.89], [81.62, 23.83], [81.69, 23.68], [81.59, 23.56], [81.65, 23.49], [81.76, 23.56], [81.91, 23.52], [82.16, 23.29], [82.15, 23.12], [81.96, 23.06], [81.93, 22.94], [81.78, 22.83], [81.75, 22.68], [81.53, 22.54], [81.38, 22.44], [81.17, 22.46], [81.05, 22.31], [80.93, 22.14], [80.84, 21.83], [80.72, 21.6], [80.65, 21.33], [80.47, 21.14]];
const chhattisgarhWest: Pt[] = [[80.47, 21.14], [80.43, 21.02], [80.56, 20.94], [80.56, 20.64], [80.61, 20.58], [80.61, 20.33], [80.42, 20.23], [80.53, 20.1], [80.44, 19.9], [80.72, 19.63], [80.88, 19.54], [80.87, 19.4], [80.72, 19.28], [80.56, 19.38], [80.41, 19.25], [80.28, 18.98], [80.34, 18.83], [80.26, 18.71]];
const telanganaNorth: Pt[] = [[78.02, 19.29], [78.17, 19.29], [78.2, 19.44], [78.3, 19.56], [78.35, 19.71], [78.32, 19.87], [78.44, 19.81], [78.72, 19.79], [78.84, 19.69], [79.02, 19.56], [79.2, 19.48], [79.26, 19.59], [79.47, 19.54], [79.78, 19.6], [79.93, 19.44], [79.94, 19.13], [79.88, 19.08], [80.02, 18.75], [80.11, 18.7], [80.26, 18.71]];
const telanganaEast: Pt[] = [[80.26, 18.71], [80.41, 18.6], [80.59, 18.56], [80.84, 18.25], [80.96, 18.06], [81.05, 17.79], [81.14, 17.83], [81.38, 17.81], [81.62, 17.81], [81.78, 17.9], [82.05, 18.05], [82.29, 18.02], [82.35, 18.25], [82.44, 18.54], [82.59, 18.25], [82.78, 18.43], [83.02, 18.37], [83.07, 18.75], [83.35, 18.86], [83.35, 19], [83.59, 19.13], [83.72, 19.02], [83.81, 19], [83.9, 18.82], [84.17, 18.8], [84.41, 18.9], [84.72, 19.16]];
const godavari: Pt[] = [[81.76, 17.86], [81.56, 17.63], [81.44, 17.4], [81.2, 17.32], [80.84, 17.06], [80.56, 17.15], [80.41, 17.02]];
const godavariTip: Pt[] = [[80.17, 17.02], [80.23, 17.04], [80.26, 17.02]];
const maharashtraNorth: Pt[] = [[78.02, 21.46], [78.2, 21.58], [78.38, 21.6], [78.44, 21.52], [78.75, 21.48], [78.9, 21.52], [79.05, 21.62], [79.23, 21.71], [79.41, 21.68], [79.56, 21.56], [79.81, 21.58], [79.96, 21.54], [80.2, 21.64], [80.41, 21.48], [80.65, 21.33]];

const coastMain: Pt[] = [[82.29, 17], [82.46, 17.22], [82.68, 17.37], [82.9, 17.43], [83.22, 17.6], [83.36, 17.73], [83.45, 17.91], [83.6, 18.06], [83.79, 18.16], [84.08, 18.27], [84.15, 18.41], [84.34, 18.56], [84.49, 18.75], [84.63, 18.95], [84.78, 19.18], [85.0, 19.35], [85.15, 19.49], [85.33, 19.6], [85.59, 19.72], [85.85, 19.81], [86.11, 19.86], [86.4, 19.98], [86.5, 20.18], [86.7, 20.29], [86.77, 20.39], [86.73, 20.47], [86.9, 20.62], [87, 20.66]];
const coastNorth: Pt[] = [[86.99, 21.4], [86.87, 21.29], [86.84, 21.14], [86.87, 21.06], [86.96, 20.83], [87, 20.71]];
const chilika: Pt[] = [[85.1, 19.44], [85.1, 19.52], [85.2, 19.72], [85.43, 19.9], [85.57, 19.88], [85.58, 19.72]];
const chilikaBar: Pt[] = [[85.12, 19.55], [85.2, 19.62], [85.38, 19.71], [85.56, 19.78]];
const mahanadiStub: Pt[] = [[86.14, 20.14], [86.2, 20.05], [86.29, 20.04], [86.35, 19.97]];

const coastBlobA: Pt[] = [[84.74, 19.12], [84.77, 19.21]];
const coastBlobB: Pt[] = [[84.24, 18.49], [84.31, 18.53]];
const coastBlobC: Pt[] = [[83.28, 17.68], [83.36, 17.72]];

const borderSolid = [lakeNorth, notchNorth, upNorth, upEast, jharkhandWest, odishaNorth, bengalWest, chhattisgarhNorth, telanganaNorth, godavari, godavariTip];
const borderDashed = [odishaWest, biharSouth, chhattisgarhWest, telanganaEast, maharashtraNorth];
const coastLines = [coastMain, coastNorth, chilika, chilikaBar, mahanadiStub];
const coastBlobs = [coastBlobA, coastBlobB, coastBlobC];

const hazeRate = 1.1;
const cdmHazeRate = 1.4;

const colorStops: [number, string][] = [
  [0, '#7fb4d6'], [1, '#90c0dc'], [2.5, '#b6d9e8'], [5, '#e8f5ea'], [7.5, '#fdf8b2'], [10, '#fdd081'],
  [12.5, '#f9a35b'], [15, '#ee5f3f'], [17.5, '#cf2a2a'], [20, '#a50026'],
];

const font = '"DejaVu Sans"';

function hex(c: string) {
  return [1, 3, 5].map((i) => parseInt(c.slice(i, i + 2), 16));
}

function rateColor(v: number) {
  const t = Math.min(v, 20);
  for (let i = 1; i < colorStops.length; i++) {
    if (t <= colorStops[i][0]) {
      const [a, ca] = colorStops[i - 1];
      const [b, cb] = colorStops[i];
      const f = (t - a) / (b - a);
      const x = hex(ca);
      const y = hex(cb);
      return `rgb(${x.map((q, k) => Math.round(q + (y[k] - q) * f)).join(',')})`;
    }
  }
  return colorStops[colorStops.length - 1][1];
}

const rowsToCells = (rows: Row[], rate: number): Cell[] =>
  rows.flatMap(([lat, lons]) => lons.map((lon) => [lon, lat, rate] as Cell));
const toCells = (list: Cell[]) => list.map(([lon, lat, rate]) => ({ lon, lat, rate }));
const toPts = (list: Pt[]) => list.map(([lon, lat]) => ({ lon, lat }));

const NoMark = () => null;

function CellMark(props: any) {
  const rate = props.rate ?? props.payload?.rate;
  return <rect x={props.cx - 4.7} y={props.cy - 4.5} width={9.4} height={9} fill={rateColor(rate)} />;
}

function MapPanel({ left, height, cells, heatClass, children }: any) {
  return (
    <div style={{ position: 'absolute', left, top: 0 }}>
      <ScatterChart width={1000} height={height} margin={{ top: 92, right: 22, bottom: 0, left: 0 }}>
        <CartesianGrid fill="#87bbda" horizontal={false} vertical={false} />
        <XAxis
          type="number"
          dataKey="lon"
          domain={[78, 87]}
          ticks={lonTicks}
          tickFormatter={(v) => `${v}°E`}
          height={67}
          tickLine={false}
          axisLine={false}
          tickMargin={9}
          allowDataOverflow
          tick={{ fontSize: 43.5, fontWeight: 700, fontFamily: font, fill: '#000' }}
        />
        <YAxis
          type="number"
          dataKey="lat"
          domain={[17, 25]}
          ticks={latTicks}
          tickFormatter={(v) => `${v}°N`}
          width={163}
          tickLine={false}
          axisLine={false}
          tickMargin={8}
          allowDataOverflow
          tick={{ fontSize: 43.5, fontWeight: 700, fontFamily: font, fill: '#000', dy: -4 }}
        />
        <Scatter data={toCells(cells)} shape={CellMark} className={heatClass} isAnimationActive={false} />
        {borderSolid.map((pts, i) => (
          <Scatter key={`s${i}`} data={toPts(pts)} shape={NoMark} line={{ stroke: '#33495a', strokeWidth: 1.4 }} isAnimationActive={false} />
        ))}
        {borderDashed.map((pts, i) => (
          <Scatter key={`d${i}`} data={toPts(pts)} shape={NoMark} line={{ stroke: '#33495a', strokeWidth: 1.4, strokeDasharray: '4 1.5' }} isAnimationActive={false} />
        ))}
        {coastLines.map((pts, i) => (
          <Scatter key={`c${i}`} data={toPts(pts)} shape={NoMark} line={{ stroke: '#000', strokeWidth: 3.8 }} isAnimationActive={false} />
        ))}
        {coastBlobs.map((pts, i) => (
          <Scatter key={`b${i}`} data={toPts(pts)} shape={NoMark} line={{ stroke: '#000', strokeWidth: 6.5 }} isAnimationActive={false} />
        ))}
        <ReferenceArea x1={78} x2={87} y1={17} y2={25} fill="none" stroke="#26323a" strokeWidth={2} />
      </ScatterChart>
      {/* titles sit in their own layer so the cells do not paint over them */}
      <svg width={1000} height={170} style={{ position: 'absolute', left: 0, top: 0 }}>
        {children}
      </svg>
    </div>
  );
}

function ColorBar({ left }: { left: number }) {
  return (
    <div style={{ position: 'absolute', left, top: 840 }}>
      <BarChart
        width={760}
        height={156}
        layout="vertical"
        data={[{ name: 'rate', value: 20 }]}
        margin={{ top: 16, right: 133, bottom: 0, left: 113 }}
        barCategoryGap={0}
      >
        <defs>
          <linearGradient id={`ramp${left}`} x1="0" x2="1" y1="0" y2="0">
            {colorStops.map(([v, c]) => (
              <stop key={v} offset={`${v * 5}%`} stopColor={c} />
            ))}
          </linearGradient>
        </defs>
        <XAxis
          type="number"
          domain={[0, 20]}
          ticks={barTicks}
          height={116}
          tickSize={8}
          tickMargin={10}
          axisLine={false}
          tickLine={{ stroke: '#222', strokeWidth: 1.5 }}
          tick={{ fontSize: 42, fontFamily: font, fill: '#000' }}
          interval={0}
        />
        <YAxis type="category" dataKey="name" hide />
        <Bar dataKey="value" fill={`url(#ramp${left})`} stroke="#333" strokeWidth={1.5} isAnimationActive={false} />
        <text x={372} y={140} textAnchor="middle" fontSize={41.4} fontFamily={font} fill="#000">
          SO<tspan fontSize={28} dy={9}>2</tspan>
          <tspan dy={-9}> emissions [10</tspan>
          <tspan fontSize={28} dy={-17}>−8</tspan>
          <tspan dy={17}> mol m</tspan>
          <tspan fontSize={28} dy={-17}>−2</tspan>
          <tspan dy={17}> s</tspan>
          <tspan fontSize={28} dy={-17}>−1</tspan>
          <tspan dy={17}>]</tspan>
        </text>
      </BarChart>
    </div>
  );
}

const cdmCells = [...rowsToCells(cdmHaze, cdmHazeRate), ...cdmFaint, ...cdmHot];
const newCells = [...rowsToCells(newHaze, hazeRate), ...newFaint, ...newHot];

export default function App() {
  return (
    <div style={{ position: 'absolute', left: 0, top: 0, width: 1952, height: 996, overflow: 'hidden', background: '#fff', filter: 'blur(0.5px)' }}>
      <style>{`.heat-cdm{filter:blur(2.2px)} .heat-new{filter:blur(0.6px)}`}</style>
      <MapPanel left={0} height={850} cells={cdmCells} heatClass="heat-cdm">
        <text x={164} y={78} fontSize={47} fontWeight={700} fontFamily={font}>a)</text>
        <text x={976} y={78} textAnchor="end" fontSize={48} fontWeight={700} fontFamily={font}>CDM</text>
        <text x={976} y={148} textAnchor="end" fontSize={43.7} fontFamily={font} fill="#e3122a">max rate: 14.3</text>
      </MapPanel>
      <MapPanel left={980} height={852} cells={newCells} heatClass="heat-new">
        <text x={182} y={83} fontSize={47} fontWeight={700} fontFamily={font}>b)</text>
        <text x={598} y={82} fontSize={54} fontWeight={700} fontFamily={font}>New method</text>
        <text x={650} y={149} fontSize={43.7} fontFamily={font} fill="#e3122a">max rate: 22.3</text>
      </MapPanel>
      <ColorBar left={200} />
      <ColorBar left={1181} />
    </div>
  );
}
